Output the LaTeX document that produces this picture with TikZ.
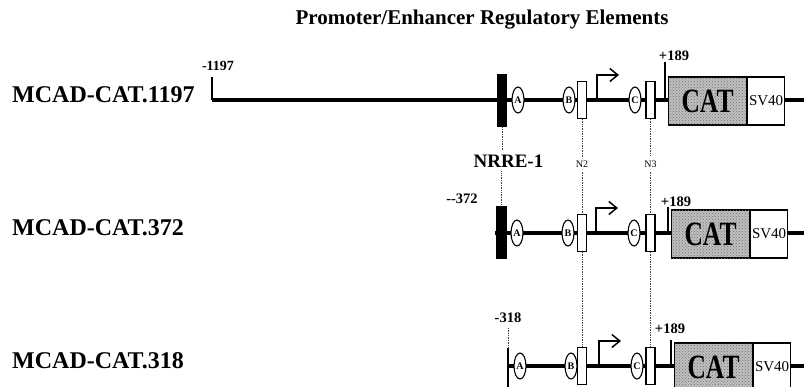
\documentclass[tikz,border=0pt]{standalone}
\usepackage{fontspec}
\setmainfont{Liberation Serif}
\usetikzlibrary{shapes.geometric,arrows.meta,patterns}
\tikzset{
  dna/.style={line width=3.2pt},
  guide/.style={densely dotted,line width=0.7pt,black!75},
  site/.style={ellipse,draw,fill=white,line width=1.1pt,minimum width=12pt,minimum height=26pt,inner sep=0pt,font=\fontsize{10}{10}\selectfont\bfseries},
  nbox/.style={rectangle,draw,fill=white,line width=1.1pt,minimum width=9pt,minimum height=37pt,inner sep=0pt},
  nrrebox/.style={rectangle,fill=black,minimum width=10.5pt,minimum height=53pt,inner sep=0pt},
  catbox/.style={rectangle,draw,line width=1.1pt,fill=black!25,postaction={pattern=crosshatch dots,pattern color=black!55},minimum width=78pt,minimum height=48pt,inner sep=0pt,font=\fontsize{34}{34}\selectfont\bfseries},
  svbox/.style={rectangle,draw,line width=1.1pt,fill=white,minimum width=37pt,minimum height=48pt,inner sep=0pt,font=\fontsize{15}{15}\selectfont},
  rowlabel/.style={anchor=base west,inner sep=0pt,font=\fontsize{24}{24}\selectfont\bfseries},
  poslabel/.style={inner sep=0pt,font=\fontsize{14.5}{14.5}\selectfont\bfseries},
  tss/.style={line width=1.5pt,-{Straight Barb[length=8pt,width=13pt,line width=1.5pt]}},
}
\begin{document}
\begin{tikzpicture}[x=1pt,y=-1pt]
  \useasboundingbox (0,0) rectangle (804,386);
  \clip (0,0) rectangle (804,386);
  \node[font=\fontsize{21}{21}\selectfont\bfseries] (title) at (482,20) {Promoter/Enhancer Regulatory Elements};
  % construct names
  \node[rowlabel] (lbl1197) at (12,102) {MCAD-CAT.1197};
  \node[rowlabel] (lbl372) at (12,235) {MCAD-CAT.372};
  \node[rowlabel] (lbl318) at (12,368) {MCAD-CAT.318};
  % 5' ends
  \coordinate (start1) at (212,100);
  \coordinate (start2) at (495,233);
  \coordinate (start3) at (508,366);
  \draw[line width=1.5pt] (212,77) -- (start1);
  \node[poslabel,font=\fontsize{14}{14}\selectfont\bfseries] (pos1197) at (218,66) {-1197};
  \node[poslabel] (pos372) at (462,199) {-{}-372};
  \node[poslabel] (pos318) at (508,318) {-318};
  \draw[guide] (508,328) -- (508,348);
  \draw[line width=1.5pt] (508,348) -- (508,390);
  % rows: line y / shift left part / shift right part / tick height / +189 label
  \foreach \r/\y/\e/\d/\tt/\lx/\ly in {1/100/0/0/38/674/56,2/233/-1/3/26/676/202,3/366/2/6/26/670/329} {
    \draw[dna] (start\r) -- (804,\y);
    \draw[line width=1.5pt] (665+\d,\y) -- (665+\d,\y-\tt);
    \node[poslabel] (plus\r) at (\lx,\ly) {+189};
    \draw[tss] (597+\e,\y) -- ++(0,-25) -- ++(22,0);
    \node[site] (a\r) at (518+\e,\y) {A};
    \node[site] (b\r) at (569+\e,\y) {B};
    \node[site] (c\r) at (635+\e,\y) {C};
    \node[nbox] (ntwo\r) at (582,\y) {};
    \node[nbox] (nthree\r) at (650.5,\y) {};
    \node[catbox,anchor=west] (cat\r) at (668+\d,\y+1) {\scalebox{0.75}[1]{CAT}};
    \node[svbox,anchor=west] (sv\r) at (cat\r.east) {SV40};
  }
  \node[nrrebox] (bar1) at (502,100.5) {};
  \node[nrrebox] (bar2) at (501.5,232) {};
  % element names
  \node[inner sep=4pt,font=\fontsize{19}{19}\selectfont\bfseries] (nrre) at (508.5,161) {NRRE-1};
  \node[inner sep=4pt,font=\fontsize{10}{10}\selectfont] (lbltwo) at (582,164) {N2};
  \node[inner sep=4pt,font=\fontsize{10}{10}\selectfont] (lblthree) at (650.5,164) {N3};
  \draw[guide] (bar1.south) -- (bar1.south |- nrre.north);
  \draw[guide] (bar2.north |- nrre.south) -- (bar2.north);
  \draw[guide] (ntwo1.south) -- (lbltwo.north);
  \draw[guide] (lbltwo.south) -- (ntwo2.north);
  \draw[guide] (ntwo2.south) -- (ntwo3.north);
  \draw[guide] (nthree1.south) -- (lblthree.north);
  \draw[guide] (lblthree.south) -- (nthree2.north);
  \draw[guide] (nthree2.south) -- (nthree3.north);
\end{tikzpicture}
\end{document}
